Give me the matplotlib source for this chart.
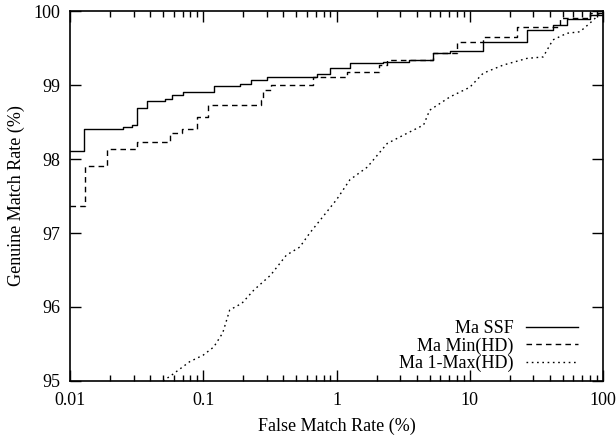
import matplotlib
matplotlib.use("Agg")
import matplotlib.pyplot as plt
from matplotlib.ticker import LogLocator, NullFormatter, FixedLocator

plt.rcParams['font.family'] = ['Liberation Serif', 'DejaVu Serif']
plt.rcParams['font.size'] = 13

# ROC data (x: false match rate %, y: genuine match rate %)
ssf_fmr = [0.01, 0.0127, 0.025, 0.029, 0.032, 0.038, 0.052, 0.058, 0.07, 0.12,
           0.19, 0.23, 0.30, 0.71, 0.89, 1.26, 2.24, 3.5, 5.3, 7.1, 12.5,
           26.9, 42, 53.6, 80, 100]
ssf_gmr = [98.11, 98.41, 98.43, 98.46, 98.69, 98.78, 98.81, 98.86, 98.90, 98.99,
           99.01, 99.07, 99.11, 99.15, 99.23, 99.30, 99.31, 99.34, 99.43, 99.46,
           99.58, 99.74, 99.81, 99.89, 99.95, 100.0]

min_fmr = [0.01, 0.0129, 0.019, 0.032, 0.056, 0.069, 0.09, 0.108, 0.27, 0.28,
           0.32, 0.67, 1.2, 2.1, 2.4, 5.3, 8.0, 12.5, 22.6, 47.5, 80, 100]
min_gmr = [97.36, 97.91, 98.14, 98.23, 98.35, 98.41, 98.57, 98.73, 98.80, 98.93,
           99.00, 99.11, 99.18, 99.27, 99.34, 99.43, 99.58, 99.65, 99.78, 99.90,
           99.97, 100.0]

max_fmr = [0.05, 0.058, 0.079, 0.10, 0.12, 0.14, 0.158, 0.195, 0.24, 0.32, 0.42,
           0.53, 0.63, 0.79, 0.94, 1.0, 1.26, 1.7, 2.4, 3.4, 4.5, 5.0, 7.1, 10,
           12.6, 17.8, 26.8, 35.5, 42, 53.5, 67, 80, 93, 100]
max_gmr = [95.0, 95.08, 95.26, 95.35, 95.46, 95.65, 95.96, 96.05, 96.23, 96.43,
           96.70, 96.81, 97.00, 97.22, 97.39, 97.45, 97.72, 97.89, 98.21, 98.35,
           98.46, 98.66, 98.84, 98.97, 99.16, 99.27, 99.36, 99.38, 99.61, 99.70,
           99.72, 99.84, 99.95, 100.0]

x_ticks = [0.01, 0.1, 1, 10, 100]
x_labels = ['0.01', '0.1', '1', '10', '100']
y_ticks = [95, 96, 97, 98, 99, 100]

fig = plt.figure(figsize=(6.16, 4.43), dpi=100)
ax = fig.add_axes([0.1136, 0.14, 0.8654, 0.835])

ax.plot(ssf_fmr, ssf_gmr, color='black', lw=1.0, drawstyle='steps-post', label='Ma SSF')
ax.plot(min_fmr, min_gmr, color='black', lw=1.0, drawstyle='steps-post',
        dashes=(4, 3), label='Ma Min(HD)')
ax.plot(max_fmr, max_gmr, color='black', lw=1.0, dashes=(1.2, 2.6), label='Ma 1-Max(HD)')

ax.set_xscale('log')
ax.set_xlim(0.01, 100)
ax.set_ylim(95, 100)
ax.xaxis.set_major_locator(FixedLocator(x_ticks))
ax.set_xticklabels(x_labels)
ax.xaxis.set_minor_locator(LogLocator(base=10, subs=range(2, 10), numticks=20))
ax.xaxis.set_minor_formatter(NullFormatter())
ax.set_yticks(y_ticks)

ax.tick_params(which='both', direction='in', top=True, right=True)
ax.tick_params(axis='x', pad=8)
ax.tick_params(axis='y', pad=7)
ax.tick_params(which='major', length=8, width=1.0)
ax.tick_params(which='minor', length=4, width=1.0)
for s in ax.spines.values():
    s.set_linewidth(1.2)

ax.set_xlabel('False Match Rate (%)', labelpad=6)
ax.set_ylabel('Genuine Match Rate (%)', labelpad=6)

ax.legend(loc='lower right', bbox_to_anchor=(0.953, 0.024), frameon=False,
          markerfirst=False, handlelength=2.9, handletextpad=0.66,
          labelspacing=0.0, borderpad=0, borderaxespad=0)

fig.savefig('out.png', dpi=100)
